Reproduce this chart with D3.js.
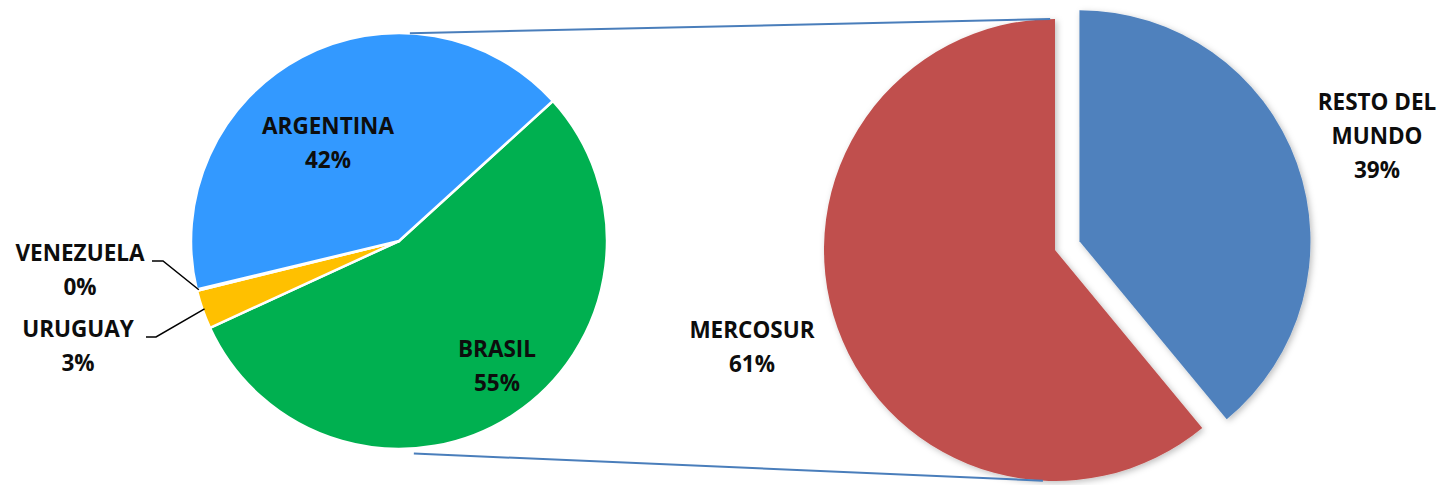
<!DOCTYPE html>
<html>
<head>
<meta charset="utf-8">
<script src="https://cdn.jsdelivr.net/npm/d3@7"></script>
<style>
  html, body { margin: 0; padding: 0; background: #fff; }
  svg { display: block; }
  .lbl { font-family: "Open Sans", "DejaVu Sans", sans-serif; font-weight: 700; font-size: 22.5px; fill: #0d0d0d; }
</style>
</head>
<body>
<div id="chart"></div>
<script>
// Left pie: breakdown of MERCOSUR (drawn clockwise from the Brasil slice)
const countries = ["BRASIL", "URUGUAY", "VENEZUELA", "ARGENTINA"];
const countryValues = [54.9, 3.0, 0.1, 42.0];
const countryColors = ["#00B050", "#FFC000", "#FFFFFF", "#3399FF"];

// Right pie: MERCOSUR vs rest of the world
const regions = ["RESTO DEL MUNDO", "MERCOSUR"];
const regionValues = [39, 61];
const regionColors = ["#4F81BD", "#C0504D"];

const W = 1445, H = 485;
const deg = Math.PI / 180;

const svg = d3.select("#chart").append("svg")
  .attr("width", W)
  .attr("height", H);

const defs = svg.append("defs");
const shadow = defs.append("filter").attr("id", "shadow")
  .attr("x", "-10%").attr("y", "-10%").attr("width", "120%").attr("height", "120%");
shadow.append("feDropShadow")
  .attr("dx", 2).attr("dy", 2).attr("stdDeviation", 3)
  .attr("flood-color", "#000").attr("flood-opacity", 0.25);

// ---- left pie
const L = { cx: 399, cy: 241, r: 208 };
const leftStart = 47.7 * deg;
const leftPie = d3.pie().sort(null).value((d) => d)
  .startAngle(leftStart).endAngle(leftStart + 2 * Math.PI);
const leftArcs = leftPie(countryValues);
const leftArc = d3.arc().innerRadius(0).outerRadius(L.r);

const gL = svg.append("g").attr("transform", `translate(${L.cx},${L.cy})`);
gL.selectAll("path")
  .data(leftArcs)
  .join("path")
  .attr("d", leftArc)
  .attr("fill", (d, i) => countryColors[i])
  .attr("stroke", "#fff")
  .attr("stroke-width", 2.5)
  .attr("stroke-linejoin", "round");

// ---- right pie
const R = { cx: 1055, cy: 250, r: 231 };
const rightPie = d3.pie().sort(null).value((d) => d);
const rightArcs = rightPie(regionValues);
const rightArc = d3.arc().innerRadius(0).outerRadius(R.r);
const explode = [26, 0];

const gR = svg.append("g")
  .attr("transform", `translate(${R.cx},${R.cy})`)
  .attr("filter", "url(#shadow)");
gR.selectAll("path")
  .data(rightArcs)
  .join("path")
  .attr("d", rightArc)
  .attr("fill", (d, i) => regionColors[i])
  .attr("transform", (d, i) => {
    const a = (d.startAngle + d.endAngle) / 2;
    return `translate(${explode[i] * Math.sin(a)},${-explode[i] * Math.cos(a)})`;
  });

// ---- connector lines between the pies
const onCircle = (c, r, a) => [c.cx + r * Math.sin(a), c.cy - r * Math.cos(a)];
const connectors = [
  [onCircle(L, 208, 3 * deg), onCircle(R, 231, 358.8 * deg)],
  [onCircle(L, 213, 176 * deg), onCircle(R, 231, 183 * deg)],
];
svg.append("g").selectAll("line")
  .data(connectors)
  .join("line")
  .attr("x1", (d) => d[0][0]).attr("y1", (d) => d[0][1])
  .attr("x2", (d) => d[1][0]).attr("y2", (d) => d[1][1])
  .attr("stroke", "#4A7EBB")
  .attr("stroke-width", 2);

// ---- labels
const pct = (v, tot) => `${Math.round((v / tot) * 100)}%`;
const leftTotal = d3.sum(countryValues);
const rightTotal = d3.sum(regionValues);

// label anchors (centre x, first baseline y)
const leftLabelPos = {
  BRASIL: [497, 357],
  URUGUAY: [78, 337],
  VENEZUELA: [80, 261],
  ARGENTINA: [328, 134],
};
const rightLabelPos = {
  "RESTO DEL MUNDO": [1377, 110],
  MERCOSUR: [752, 338],
};
const lineH = 34;

function addLabel(lines, pos) {
  const t = svg.append("text").attr("class", "lbl").attr("text-anchor", "middle");
  lines.forEach((s, k) => {
    t.append("tspan").attr("x", pos[0]).attr("y", pos[1] + k * lineH).text(s);
  });
}

countries.forEach((c, i) => {
  addLabel([c, pct(countryValues[i], leftTotal)], leftLabelPos[c]);
});
regions.forEach((c, i) => {
  const lines = c === "RESTO DEL MUNDO" ? ["RESTO DEL", "MUNDO"] : [c];
  addLabel([...lines, pct(regionValues[i], rightTotal)], rightLabelPos[c]);
});

// leader lines for the small slices
const leaders = [
  { idx: 2, start: [152, 261], knee: [163, 261] },
  { idx: 1, start: [146, 337], knee: [156, 337] },
];
svg.append("g").selectAll("polyline")
  .data(leaders)
  .join("polyline")
  .attr("points", (d) => {
    const a = leftArcs[d.idx];
    const end = onCircle(L, L.r - 2, (a.startAngle + a.endAngle) / 2);
    return [d.start, d.knee, end].map((p) => p.join(",")).join(" ");
  })
  .attr("fill", "none")
  .attr("stroke", "#000")
  .attr("stroke-width", 1.5);
</script>
</body>
</html>
